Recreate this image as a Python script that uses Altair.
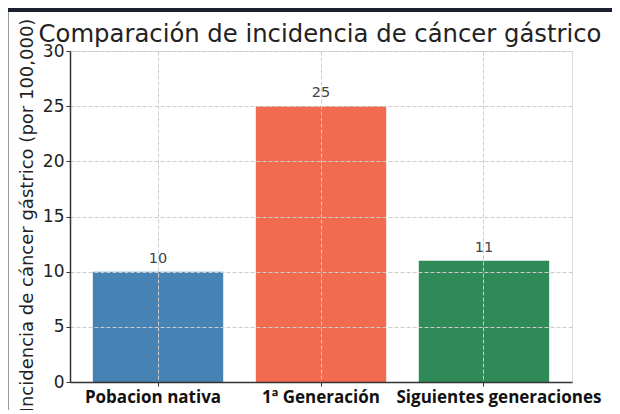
import altair as alt
import pandas as pd

categories = ["Pobacion nativa", "1ª Generación", "Siguientes generaciones"]
values = [10, 25, 11]
colors = ["#4682B4", "#F26A4F", "#2E8B57"]
y_ticks = [0, 5, 10, 15, 20, 25, 30]
title_text = "Comparación de incidencia de cáncer gástrico"

df = pd.DataFrame({"cat": categories, "val": values})

x_enc = alt.X(
    "cat:N",
    sort=categories,
    title=None,
    scale=alt.Scale(paddingInner=0.2, paddingOuter=0.14),
    axis=alt.Axis(
        labelAngle=0,
        labelFont="Open Sans",
        labelFontWeight="bold",
        labelFontSize=17,
        labelColor="#111111",
        labelPadding=3,
        labelLimit=400,
        tickSize=4,
        tickColor="#333333",
        domainColor="#333333",
        domainWidth=1.5,
        grid=True,
        gridDash=[4, 2],
        gridColor="#cccccc",
        zindex=1,
        labelOffset={
            "condition": [
                {"test": "datum.value == 'Siguientes generaciones'", "value": 15},
                {"test": "datum.value == 'Pobacion nativa'", "value": -5},
            ],
            "value": 0,
        },
    ),
)

y_enc = alt.Y(
    "val:Q",
    scale=alt.Scale(domain=[0, 30], nice=False),
    axis=alt.Axis(
        values=y_ticks,
        title="Incidencia de cáncer gástrico (por 100,000)",
        titleFont="DejaVu Sans",
        titleFontSize=18,
        titleFontWeight="normal",
        titleColor="#222222",
        titleAngle=-90,
        titleX=-38,
        titleY=164,
        titleAlign="center",
        titleBaseline="alphabetic",
        labelFont="DejaVu Sans",
        labelFontSize=17,
        labelColor="#222222",
        labelPadding=2,
        tickSize=4,
        tickColor="#333333",
        domainColor="#333333",
        domainWidth=1.5,
        grid=True,
        gridDash=[4, 2],
        gridColor="#cccccc",
        zindex=1,
    ),
)

deco = pd.DataFrame({"d": [0]})

frame_top = alt.Chart(deco).mark_rule(color="#1b2030", strokeWidth=4).encode(
    x=alt.value(-62), x2=alt.value(542), y=alt.value(-41)
)
frame_left = alt.Chart(deco).mark_rule(color="#9a9a9a", strokeWidth=1).encode(
    x=alt.value(-61.5), y=alt.value(-39), y2=alt.value(360)
)

title = alt.Chart(deco).mark_text(
    font="DejaVu Sans", fontSize=24.3, color="#222222", align="center", baseline="alphabetic"
).encode(x=alt.value(250), y=alt.value(-9), text=alt.value(title_text))

bars = alt.Chart(df).mark_bar().encode(
    x=x_enc,
    y=y_enc,
    color=alt.Color("cat:N", scale=alt.Scale(domain=categories, range=colors), legend=None),
)

labels = alt.Chart(df).mark_text(
    dy=-9, baseline="alphabetic", fontSize=14.5, color="#444444", font="DejaVu Sans"
).encode(x=alt.X("cat:N", sort=categories), y="val:Q", text="val:Q")

chart = alt.layer(frame_top, frame_left, title, bars, labels).properties(
    width=502,
    height=331,
    autosize=alt.AutoSizeParams(type="none"),
    padding={"left": 62, "top": 43, "right": 40, "bottom": 28},
).configure_view(stroke=None).configure(background="white")

chart.save("out.html", embed_options={"renderer": "svg", "actions": False})
